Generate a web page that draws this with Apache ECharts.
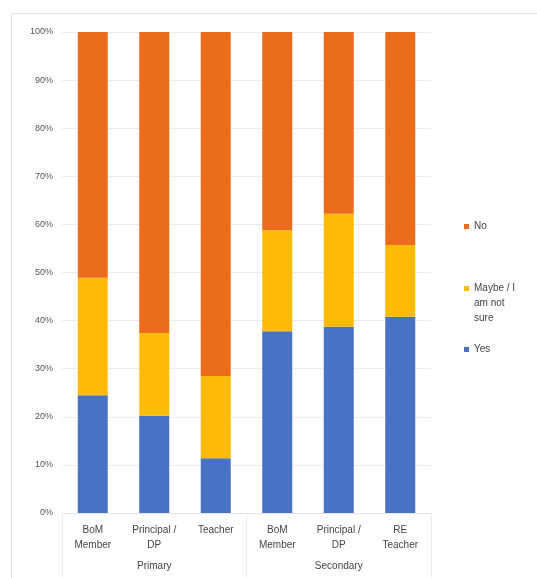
<!DOCTYPE html>
<html>
<head>
<meta charset="utf-8">
<script src="https://cdn.jsdelivr.net/npm/echarts@6/dist/echarts.min.js"></script>
<style>
  html, body { margin: 0; padding: 0; background: #ffffff; }
  #chart { width: 537px; height: 578px; }
</style>
</head>
<body>
<div id="chart"></div>
<script>
// Respondent roles, grouped by school level
const roles = ['BoM\nMember', 'Principal /\nDP', 'Teacher', 'BoM\nMember', 'Principal /\nDP', 'RE\nTeacher'];
const levels = ['Primary', 'Secondary'];

// Share of answers per role (%)
const yesValues   = [24.5, 20.2, 11.4, 37.8, 38.7, 40.8];
const maybeValues = [24.4, 17.2, 17.1, 21.0, 23.5, 14.9];
const noValues    = [51.1, 62.6, 71.5, 41.2, 37.8, 44.3];

const yTicks = [0, 10, 20, 30, 40, 50, 60, 70, 80, 90, 100];

const seriesNames = ['Yes', 'Maybe / I am not sure', 'No'];
const colors = { 'Yes': '#4a72c4', 'Maybe / I am not sure': '#fbbb06', 'No': '#ec6c1d' };

const chart = echarts.init(document.getElementById('chart'), null, { renderer: 'canvas' });

const textColor = '#444444';
const fontFamily = 'Liberation Sans, Arial, sans-serif';

function barSeries(name, values) {
  return {
    name: name,
    type: 'bar',
    stack: 'total',
    xAxisIndex: 0,
    barWidth: 30,
    itemStyle: { color: colors[name] },
    emphasis: { disabled: true },
    data: values
  };
}

// Square marker placed at the top of a taller box, so it lines up
// with the first line of a wrapped legend label
const topSquareIcon = 'path://M0,0L5,0L5,5L0,5Z M0,35L5,35';

// One legend block per entry so each can sit at its own height
function legendEntry(name, top, label, icon, h) {
  return {
    orient: 'vertical',
    left: 459, top: top,
    itemWidth: 5, itemHeight: h,
    icon: icon,
    itemStyle: { borderWidth: 0 },
    data: [name],
    textStyle: { color: textColor, fontSize: 10, lineHeight: 15 },
    formatter: () => label
  };
}

chart.setOption({
  animation: false,
  textStyle: { fontFamily: fontFamily },
  grid: { left: 62, right: 106, top: 32, bottom: 65, containLabel: false },
  graphic: [{
    type: 'rect',
    left: 9, top: 11,
    shape: { width: 540, height: 580 },
    style: { fill: 'none', stroke: '#e2e2e2', lineWidth: 1 },
    silent: true
  }],
  legend: [
    legendEntry('No', 214, 'No', 'rect', 5),
    legendEntry('Maybe / I am not sure', 276, 'Maybe / I\nam not\nsure', topSquareIcon, 35),
    legendEntry('Yes', 337, 'Yes', 'rect', 5)
  ],
  xAxis: [{
    type: 'category',
    data: roles,
    position: 'bottom',
    axisLine: { show: true, lineStyle: { color: '#e4e4e4' } },
    axisTick: { show: false },
    axisLabel: { color: textColor, fontSize: 10, lineHeight: 15, margin: 10, interval: 0 }
  }, {
    type: 'category',
    data: levels,
    position: 'bottom',
    boundaryGap: true,
    axisLine: { show: false },
    axisTick: { show: true, length: 64, lineStyle: { color: '#ececec' } },
    axisLabel: { color: textColor, fontSize: 10, margin: 48 },
    splitLine: { show: false }
  }],
  yAxis: {
    type: 'value',
    min: yTicks[0],
    max: yTicks[yTicks.length - 1],
    interval: yTicks[1] - yTicks[0],
    axisLine: { show: false },
    axisTick: { show: false },
    axisLabel: { color: '#555555', fontSize: 9, margin: 9, formatter: v => v + '%' },
    splitLine: { show: true, lineStyle: { color: '#ececec', width: 1 } }
  },
  series: [
    barSeries(seriesNames[0], yesValues),
    barSeries(seriesNames[1], maybeValues),
    barSeries(seriesNames[2], noValues)
  ]
});
</script>
</body>
</html>
